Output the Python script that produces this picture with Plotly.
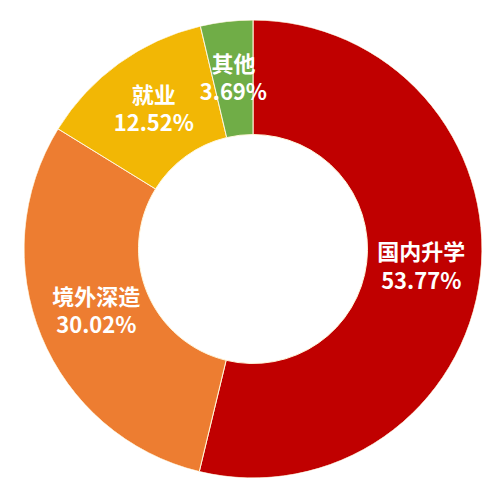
import plotly.graph_objects as go

labels = ["国内升学", "境外深造", "就业", "其他"]
values = [53.77, 30.02, 12.52, 3.69]
colors = ["#C00000", "#ED7D31", "#F2B705", "#70AD47"]

W, H = 502, 483
cx, cy, r = 245, 241, 229
dom = dict(x=[(cx - r) / W, (cx + r) / W],
           y=[(H - cy - r) / H, (H - cy + r) / H])

# slice angles (degrees clockwise from 12 o'clock), derived from the values
total = sum(values)
mids, widths, acc = [], [], 0.0
for v in values:
    mids.append((acc + v / 2) / total * 360)
    widths.append(v / total * 360)
    acc += v
texts = [f"<b>{l}</b><br><b>{v:.2f}%</b>" for l, v in zip(labels, values)]

hole = 0.5
fig = go.Figure()
fig.add_trace(go.Barpolar(
    theta=mids,
    width=widths,
    base=[hole] * len(values),
    r=[1 - hole] * len(values),
    marker=dict(color=colors, line=dict(color="#FFF6DA", width=1)),
    showlegend=False,
    hoverinfo="skip",
))
fig.add_trace(go.Scatterpolar(
    r=[0.74] * len(values),
    theta=mids,
    mode="text",
    text=texts,
    textposition="middle center",
    textfont=dict(family="Noto Sans CJK SC", size=22, color="white"),
    showlegend=False,
    hoverinfo="skip",
))

fig.update_layout(
    width=W, height=H,
    margin=dict(l=0, r=0, t=0, b=0),
    paper_bgcolor="white",
    plot_bgcolor="white",
    polar=dict(
        domain=dom,
        bgcolor="rgba(0,0,0,0)",
        bargap=0,
        radialaxis=dict(visible=False, range=[0, 1]),
        angularaxis=dict(visible=False, direction="clockwise", rotation=90),
    ),
)

fig.write_html("out.html")
